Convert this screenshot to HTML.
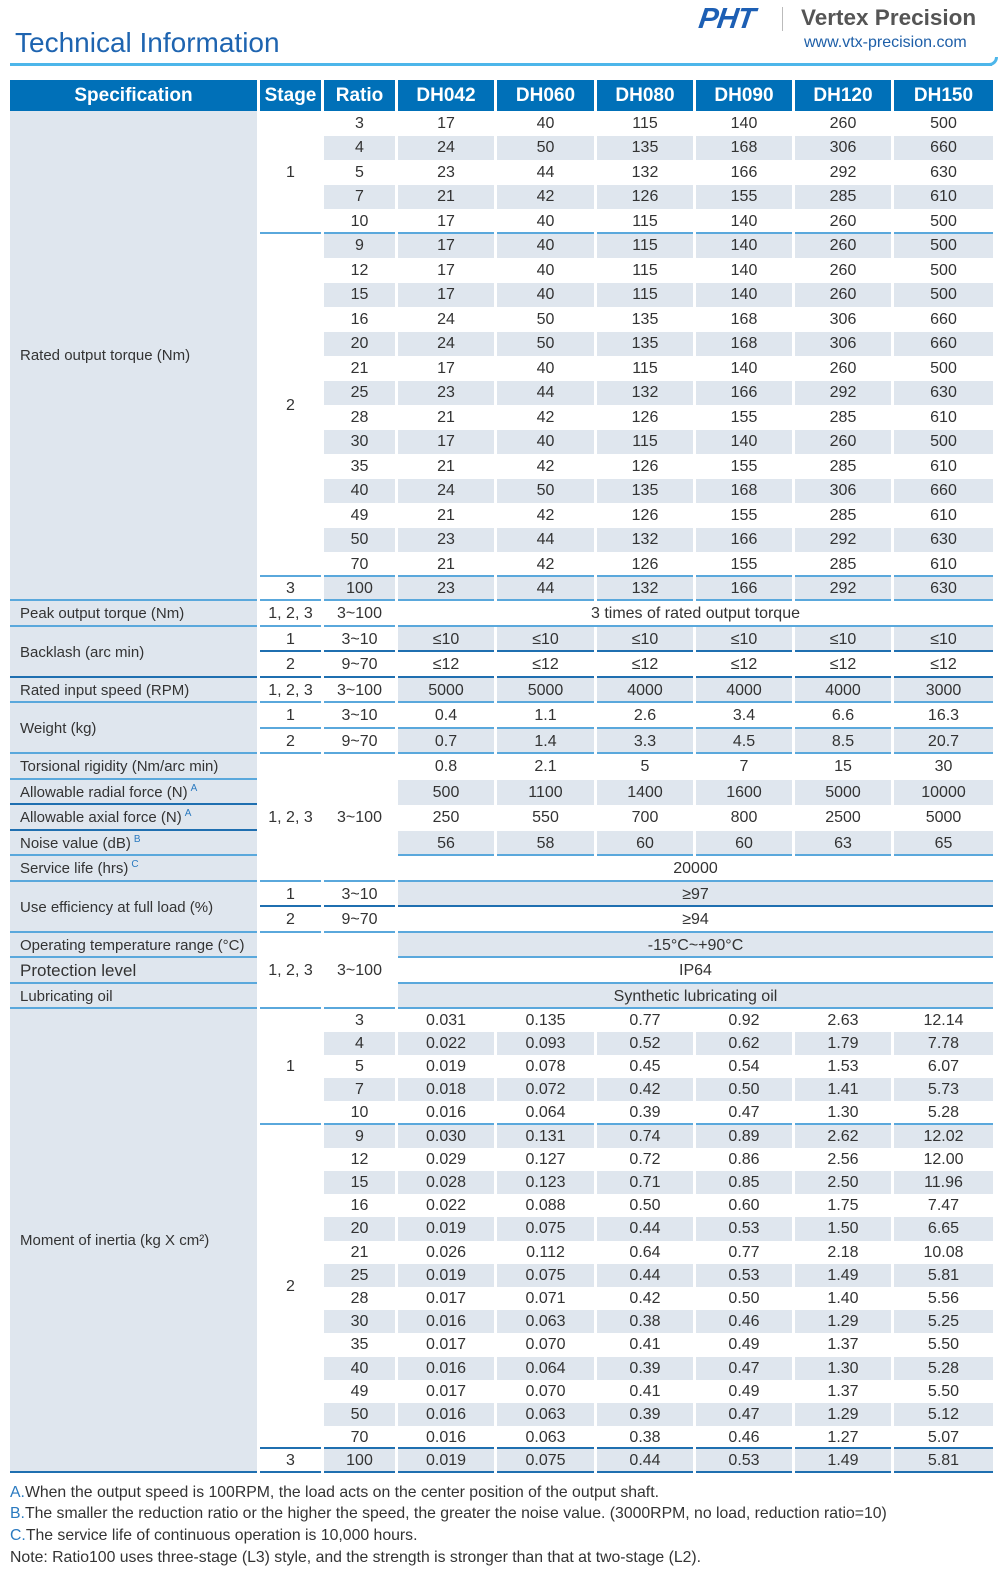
<!DOCTYPE html>
<html><head><meta charset="utf-8">
<style>
*{margin:0;padding:0;box-sizing:border-box}
body{width:1000px;height:1580px;background:#fff;font-family:"Liberation Sans",Arial,sans-serif;color:#333;position:relative;overflow:hidden}
.title{position:absolute;left:15px;top:27px;font-size:28px;color:#1e64b0}
.tline{position:absolute;left:10px;top:63px;width:982px;height:3px;background:#4db6ea}
.tcurve{position:absolute;left:988px;top:57px;width:10px;height:9px;border-bottom:3px solid #4db6ea;border-right:3px solid #4db6ea;border-bottom-right-radius:10px}
.pht{position:absolute;left:699px;top:3px;font-size:29px;font-weight:bold;font-style:italic;color:#1d5fb4;letter-spacing:-1px;transform:skewX(-8deg)}
.sep{position:absolute;left:782px;top:7px;width:1px;height:24px;background:#bbb}
.vp{position:absolute;left:801px;top:5px;font-size:22.5px;font-weight:bold;color:#555}
.url{position:absolute;left:804px;top:34px;font-size:16px;color:#1e5fa8}
table{position:absolute;left:7px;top:80px;border-collapse:separate;border-spacing:3px 0;table-layout:fixed}
td{padding:0;text-align:center;vertical-align:middle;font-size:16px;white-space:nowrap;overflow:hidden;line-height:16px}
th{background:#0070b8;color:#fff;font-size:19px;font-weight:bold;height:31px;padding:0;line-height:19px}
td.sp{background:#dfe6ee;text-align:left;padding-left:10px;font-size:15px}
.s{background:#dfe6ee}
.l{box-shadow:inset 0 -2px #5aa8dc}
.d{box-shadow:inset 0 -2px #1f6fb0}
sup{color:#2a7ac0;font-size:10px;vertical-align:6px;margin-left:3px;line-height:0}
tr.t:nth-of-type(odd) td{height:24px}
tr.t td{height:25px}
tr.t.o td{height:24px}
tr.m td{height:26px}
tr.m.o td{height:25px}
tr.i td{height:23px}
tr.i.o td{height:24px}
.fn{position:absolute;left:10px;font-size:15.8px;color:#333}
.fn b{font-weight:normal;color:#2a7ac0}
</style></head><body>
<div class="title">Technical Information</div>
<div class="tline"></div><div class="tcurve"></div>
<div class="pht">PHT</div><div class="sep"></div>
<div class="vp">Vertex Precision</div>
<div class="url">www.vtx-precision.com</div>

<table>
<colgroup><col style="width:247px"><col style="width:61px"><col style="width:71px"><col style="width:96px"><col style="width:97px"><col style="width:96px"><col style="width:96px"><col style="width:96px"><col style="width:99px"></colgroup>
<tr><th>Specification</th><th>Stage</th><th>Ratio</th><th>DH042</th><th>DH060</th><th>DH080</th><th>DH090</th><th>DH120</th><th>DH150</th></tr>

<tr class="t"><td class="sp l" rowspan="20">Rated output torque (Nm)</td><td rowspan="5" class="l">1</td><td>3</td><td>17</td><td>40</td><td>115</td><td>140</td><td>260</td><td>500</td></tr>
<tr class="t o"><td class="s">4</td><td class="s">24</td><td class="s">50</td><td class="s">135</td><td class="s">168</td><td class="s">306</td><td class="s">660</td></tr>
<tr class="t"><td>5</td><td>23</td><td>44</td><td>132</td><td>166</td><td>292</td><td>630</td></tr>
<tr class="t o"><td class="s">7</td><td class="s">21</td><td class="s">42</td><td class="s">126</td><td class="s">155</td><td class="s">285</td><td class="s">610</td></tr>
<tr class="t"><td class="l">10</td><td class="l">17</td><td class="l">40</td><td class="l">115</td><td class="l">140</td><td class="l">260</td><td class="l">500</td></tr>
<tr class="t o"><td rowspan="14" class="l">2</td><td class="s">9</td><td class="s">17</td><td class="s">40</td><td class="s">115</td><td class="s">140</td><td class="s">260</td><td class="s">500</td></tr>
<tr class="t"><td>12</td><td>17</td><td>40</td><td>115</td><td>140</td><td>260</td><td>500</td></tr>
<tr class="t o"><td class="s">15</td><td class="s">17</td><td class="s">40</td><td class="s">115</td><td class="s">140</td><td class="s">260</td><td class="s">500</td></tr>
<tr class="t"><td>16</td><td>24</td><td>50</td><td>135</td><td>168</td><td>306</td><td>660</td></tr>
<tr class="t o"><td class="s">20</td><td class="s">24</td><td class="s">50</td><td class="s">135</td><td class="s">168</td><td class="s">306</td><td class="s">660</td></tr>
<tr class="t"><td>21</td><td>17</td><td>40</td><td>115</td><td>140</td><td>260</td><td>500</td></tr>
<tr class="t o"><td class="s">25</td><td class="s">23</td><td class="s">44</td><td class="s">132</td><td class="s">166</td><td class="s">292</td><td class="s">630</td></tr>
<tr class="t"><td>28</td><td>21</td><td>42</td><td>126</td><td>155</td><td>285</td><td>610</td></tr>
<tr class="t o"><td class="s">30</td><td class="s">17</td><td class="s">40</td><td class="s">115</td><td class="s">140</td><td class="s">260</td><td class="s">500</td></tr>
<tr class="t"><td>35</td><td>21</td><td>42</td><td>126</td><td>155</td><td>285</td><td>610</td></tr>
<tr class="t o"><td class="s">40</td><td class="s">24</td><td class="s">50</td><td class="s">135</td><td class="s">168</td><td class="s">306</td><td class="s">660</td></tr>
<tr class="t"><td>49</td><td>21</td><td>42</td><td>126</td><td>155</td><td>285</td><td>610</td></tr>
<tr class="t o"><td class="s">50</td><td class="s">23</td><td class="s">44</td><td class="s">132</td><td class="s">166</td><td class="s">292</td><td class="s">630</td></tr>
<tr class="t"><td class="l">70</td><td class="l">21</td><td class="l">42</td><td class="l">126</td><td class="l">155</td><td class="l">285</td><td class="l">610</td></tr>
<tr class="t o"><td class="l">3</td><td class="s l">100</td><td class="s l">23</td><td class="s l">44</td><td class="s l">132</td><td class="s l">166</td><td class="s l">292</td><td class="s l">630</td></tr>

<tr class="m"><td class="sp l">Peak output torque (Nm)</td><td class="l">1, 2, 3</td><td class="l">3~100</td><td colspan="6" class="l">3 times of rated output torque</td></tr>
<tr class="m o"><td class="sp d" rowspan="2">Backlash (arc min)</td><td class="d">1</td><td class="d">3~10</td><td class="s d">≤10</td><td class="s d">≤10</td><td class="s d">≤10</td><td class="s d">≤10</td><td class="s d">≤10</td><td class="s d">≤10</td></tr>
<tr class="m"><td class="d">2</td><td class="d">9~70</td><td class="d">≤12</td><td class="d">≤12</td><td class="d">≤12</td><td class="d">≤12</td><td class="d">≤12</td><td class="d">≤12</td></tr>
<tr class="m o"><td class="sp l">Rated input speed (RPM)</td><td class="l">1, 2, 3</td><td class="l">3~100</td><td class="s l">5000</td><td class="s l">5000</td><td class="s l">4000</td><td class="s l">4000</td><td class="s l">4000</td><td class="s l">3000</td></tr>
<tr class="m"><td class="sp l" rowspan="2">Weight (kg)</td><td class="l">1</td><td class="l">3~10</td><td class="l">0.4</td><td class="l">1.1</td><td class="l">2.6</td><td class="l">3.4</td><td class="l">6.6</td><td class="l">16.3</td></tr>
<tr class="m o"><td class="l">2</td><td class="l">9~70</td><td class="s l">0.7</td><td class="s l">1.4</td><td class="s l">3.3</td><td class="s l">4.5</td><td class="s l">8.5</td><td class="s l">20.7</td></tr>
<tr class="m"><td class="sp l">Torsional rigidity (Nm/arc min)</td><td rowspan="5" class="l">1, 2, 3</td><td rowspan="5" class="l">3~100</td><td>0.8</td><td>2.1</td><td>5</td><td>7</td><td>15</td><td>30</td></tr>
<tr class="m o"><td class="sp d">Allowable radial force (N)<sup>A</sup></td><td class="s">500</td><td class="s">1100</td><td class="s">1400</td><td class="s">1600</td><td class="s">5000</td><td class="s">10000</td></tr>
<tr class="m"><td class="sp d">Allowable axial force (N)<sup>A</sup></td><td>250</td><td>550</td><td>700</td><td>800</td><td>2500</td><td>5000</td></tr>
<tr class="m o"><td class="sp l">Noise value (dB)<sup>B</sup></td><td class="s l">56</td><td class="s l">58</td><td class="s l">60</td><td class="s l">60</td><td class="s l">63</td><td class="s l">65</td></tr>
<tr class="m"><td class="sp l">Service life (hrs)<sup>C</sup></td><td colspan="6" class="l">20000</td></tr>
<tr class="m o"><td class="sp l" rowspan="2">Use efficiency at full load (%)</td><td class="d">1</td><td class="d">3~10</td><td colspan="6" class="s d">≥97</td></tr>
<tr class="m"><td class="l">2</td><td class="l">9~70</td><td colspan="6" class="l">≥94</td></tr>
<tr class="m o"><td class="sp l">Operating temperature range (°C)</td><td rowspan="3" class="l">1, 2, 3</td><td rowspan="3" class="l">3~100</td><td colspan="6" class="s l">-15°C~+90°C</td></tr>
<tr class="m"><td class="sp l" style="font-size:17px">Protection level</td><td colspan="6" class="l">IP64</td></tr>
<tr class="m o"><td class="sp l">Lubricating oil</td><td colspan="6" class="s l">Synthetic lubricating oil</td></tr>

<tr class="i"><td class="sp d" rowspan="20">Moment of inertia (kg X cm²)</td><td rowspan="5" class="l">1</td><td>3</td><td>0.031</td><td>0.135</td><td>0.77</td><td>0.92</td><td>2.63</td><td>12.14</td></tr>
<tr class="i"><td class="s">4</td><td class="s">0.022</td><td class="s">0.093</td><td class="s">0.52</td><td class="s">0.62</td><td class="s">1.79</td><td class="s">7.78</td></tr>
<tr class="i"><td>5</td><td>0.019</td><td>0.078</td><td>0.45</td><td>0.54</td><td>1.53</td><td>6.07</td></tr>
<tr class="i"><td class="s">7</td><td class="s">0.018</td><td class="s">0.072</td><td class="s">0.42</td><td class="s">0.50</td><td class="s">1.41</td><td class="s">5.73</td></tr>
<tr class="i o"><td class="l">10</td><td class="l">0.016</td><td class="l">0.064</td><td class="l">0.39</td><td class="l">0.47</td><td class="l">1.30</td><td class="l">5.28</td></tr>
<tr class="i"><td rowspan="14" class="d">2</td><td class="s">9</td><td class="s">0.030</td><td class="s">0.131</td><td class="s">0.74</td><td class="s">0.89</td><td class="s">2.62</td><td class="s">12.02</td></tr>
<tr class="i"><td>12</td><td>0.029</td><td>0.127</td><td>0.72</td><td>0.86</td><td>2.56</td><td>12.00</td></tr>
<tr class="i"><td class="s">15</td><td class="s">0.028</td><td class="s">0.123</td><td class="s">0.71</td><td class="s">0.85</td><td class="s">2.50</td><td class="s">11.96</td></tr>
<tr class="i"><td>16</td><td>0.022</td><td>0.088</td><td>0.50</td><td>0.60</td><td>1.75</td><td>7.47</td></tr>
<tr class="i o"><td class="s">20</td><td class="s">0.019</td><td class="s">0.075</td><td class="s">0.44</td><td class="s">0.53</td><td class="s">1.50</td><td class="s">6.65</td></tr>
<tr class="i"><td>21</td><td>0.026</td><td>0.112</td><td>0.64</td><td>0.77</td><td>2.18</td><td>10.08</td></tr>
<tr class="i"><td class="s">25</td><td class="s">0.019</td><td class="s">0.075</td><td class="s">0.44</td><td class="s">0.53</td><td class="s">1.49</td><td class="s">5.81</td></tr>
<tr class="i"><td>28</td><td>0.017</td><td>0.071</td><td>0.42</td><td>0.50</td><td>1.40</td><td>5.56</td></tr>
<tr class="i"><td class="s">30</td><td class="s">0.016</td><td class="s">0.063</td><td class="s">0.38</td><td class="s">0.46</td><td class="s">1.29</td><td class="s">5.25</td></tr>
<tr class="i o"><td>35</td><td>0.017</td><td>0.070</td><td>0.41</td><td>0.49</td><td>1.37</td><td>5.50</td></tr>
<tr class="i"><td class="s">40</td><td class="s">0.016</td><td class="s">0.064</td><td class="s">0.39</td><td class="s">0.47</td><td class="s">1.30</td><td class="s">5.28</td></tr>
<tr class="i"><td>49</td><td>0.017</td><td>0.070</td><td>0.41</td><td>0.49</td><td>1.37</td><td>5.50</td></tr>
<tr class="i"><td class="s">50</td><td class="s">0.016</td><td class="s">0.063</td><td class="s">0.39</td><td class="s">0.47</td><td class="s">1.29</td><td class="s">5.12</td></tr>
<tr class="i"><td class="d">70</td><td class="d">0.016</td><td class="d">0.063</td><td class="d">0.38</td><td class="d">0.46</td><td class="d">1.27</td><td class="d">5.07</td></tr>
<tr class="i o"><td class="d">3</td><td class="s d">100</td><td class="s d">0.019</td><td class="s d">0.075</td><td class="s d">0.44</td><td class="s d">0.53</td><td class="s d">1.49</td><td class="s d">5.81</td></tr>
</table>

<div class="fn" style="top:1484px"><b>A.</b>When the output speed is 100RPM, the load acts on the center position of the output shaft.</div>
<div class="fn" style="top:1505px"><b>B.</b>The smaller the reduction ratio or the higher the speed, the greater the noise value. (3000RPM, no load, reduction ratio=10)</div>
<div class="fn" style="top:1527px"><b>C.</b>The service life of continuous operation is 10,000 hours.</div>
<div class="fn" style="top:1549px">Note: Ratio100 uses three-stage (L3) style, and the strength is stronger than that at two-stage (L2).</div>
</body></html>
